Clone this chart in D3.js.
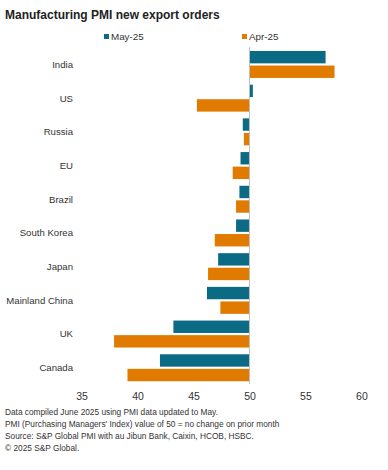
<!DOCTYPE html>
<html>
<head>
<meta charset="utf-8">
<script src="https://cdn.jsdelivr.net/npm/d3@7"></script>
<style>
  body { margin: 0; background: #fff; }
  svg { display: block; font-family: "Liberation Sans", Arial, sans-serif; }
</style>
</head>
<body>
<script>
const width = 388;
const height = 470;

// data
const countries = ["India", "US", "Russia", "EU", "Brazil", "South Korea", "Japan", "Mainland China", "UK", "Canada"];
const series = ["May-25", "Apr-25"];
const may25 = [56.8, 50.3, 49.4, 49.2, 49.1, 48.8, 47.2, 46.2, 43.2, 42.0];
const apr25 = [57.6, 45.3, 49.5, 48.5, 48.8, 46.9, 46.3, 47.4, 37.9, 39.1];
const xTicks = [35, 40, 45, 50, 55, 60];
const notes = [
    "Data compiled June 2025 using PMI data updated to May.",
    "PMI (Purchasing Managers' Index) value of 50 = no change on prior month",
    "Source: S&P Global PMI with au Jibun Bank, Caixin, HCOB, HSBC.",
    "\u00a9 2025 S&P Global."
];

const color = {
    "May-25": "#0b6b85",
    "Apr-25": "#e07b00",
    text: "#333",
    base: "#bfbfbf"
};

const rows = countries.map((c, i) => ({ country: c, "May-25": may25[i], "Apr-25": apr25[i] }));

let svg = d3.select("body").append("svg")
    .attr("width", width)
    .attr("height", height);

// title
svg.append("text")
    .attr("x", 5)
    .attr("y", 19)
    .attr("font-size", 12)
    .attr("font-weight", "bold")
    .attr("fill", "#222")
    .text("Manufacturing PMI new export orders");

// legend
const legend = [{ key: "May-25", x: 104 }, { key: "Apr-25", x: 242 }];
legend.forEach(l => {
    svg.append("rect")
        .attr("x", l.x)
        .attr("y", 34)
        .attr("width", 5)
        .attr("height", 5)
        .attr("fill", color[l.key]);
    svg.append("text")
        .attr("x", l.x + 7)
        .attr("y", 40)
        .attr("font-size", 9.8)
        .attr("fill", color.text)
        .text(l.key);
});

let x = d3.scaleLinear()
    .domain([35, 60])
    .range([81.6, 361.4]);

let y = d3.scaleBand()
    .domain(countries)
    .range([47.6, 384.6])
    .paddingInner(0.2)
    .paddingOuter(0.1);

let ySub = d3.scaleBand()
    .domain(series)
    .range([0, y.bandwidth()])
    .paddingInner(0.15);

let chartG = svg.append("g");

chartG.selectAll("g.row")
    .data(rows)
    .enter()
    .append("g")
    .attr("class", "row")
    .attr("transform", d => "translate(0," + y(d.country) + ")")
    .selectAll("rect")
    .data(d => series.map(s => ({ key: s, value: d[s] })))
    .enter()
    .append("rect")
    .attr("x", d => x(Math.min(50, d.value)))
    .attr("y", d => ySub(d.key))
    .attr("width", d => Math.abs(x(d.value) - x(50)))
    .attr("height", ySub.bandwidth())
    .attr("fill", d => color[d.key]);

// 50 baseline
chartG.append("line")
    .attr("x1", x(50))
    .attr("x2", x(50))
    .attr("y1", 47)
    .attr("y2", 384)
    .attr("stroke", color.base)
    .attr("stroke-width", 1);

// category labels
svg.append("g")
    .selectAll("text")
    .data(countries)
    .enter()
    .append("text")
    .attr("x", 73)
    .attr("y", d => y(d) + y.bandwidth() / 2)
    .attr("dy", "0.35em")
    .attr("text-anchor", "end")
    .attr("font-size", 9.6)
    .attr("fill", color.text)
    .text(d => d);

// x axis
let xAxis = d3.axisBottom(x)
    .tickValues(xTicks)
    .tickSize(0)
    .tickPadding(0);

let axisG = svg.append("g")
    .attr("transform", "translate(0,393)")
    .call(xAxis);
axisG.select(".domain").remove();
axisG.selectAll("text")
    .attr("font-size", 10.5)
    .attr("font-family", "Liberation Sans, Arial, sans-serif")
    .attr("fill", color.text)
    .attr("dy", "0.71em");

// notes
svg.append("g")
    .selectAll("text")
    .data(notes)
    .enter()
    .append("text")
    .attr("x", 5)
    .attr("y", (d, i) => 415 + i * 12)
    .attr("font-size", 8.3)
    .attr("fill", color.text)
    .text(d => d);
</script>
</body>
</html>
